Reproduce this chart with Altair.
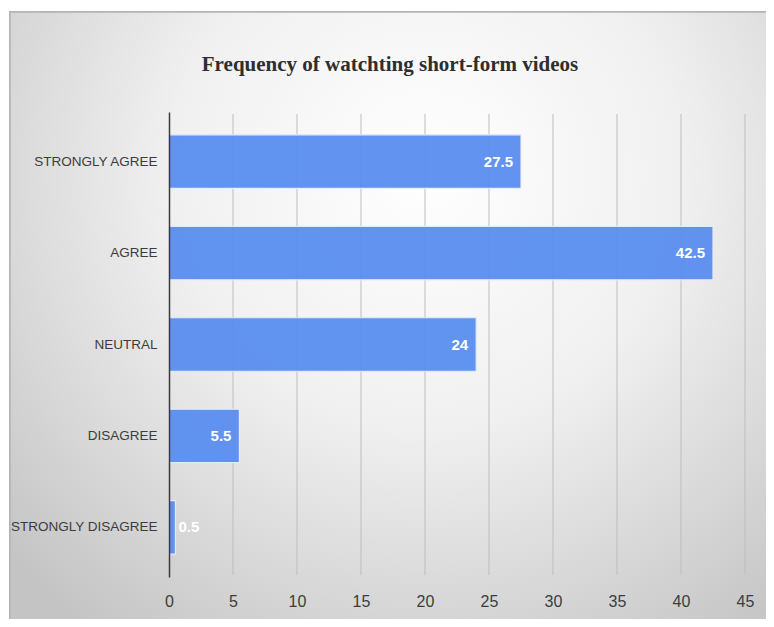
import altair as alt
import pandas as pd

categories = ["STRONGLY AGREE", "AGREE", "NEUTRAL", "DISAGREE", "STRONGLY DISAGREE"]
values = [27.5, 42.5, 24, 5.5, 0.5]
labels = ["27.5", "42.5", "24", "5.5", "0.5"]
x_ticks = [0, 5, 10, 15, 20, 25, 30, 35, 40, 45]
title_text = "Frequency of watchting short-form videos"

df = pd.DataFrame({"cat": categories, "value": values, "label": labels})
grid_df = pd.DataFrame({"t": x_ticks})
title_df = pd.DataFrame({"t": [title_text]})

W, H = 576, 465
PAD = {"left": 161, "top": 104, "right": 21, "bottom": 42}
SANS = "Liberation Sans, Arial, sans-serif"

xscale = alt.Scale(domain=[0, 45], nice=False)

bg = alt.Chart(df).mark_rect(
    fill=alt.RadialGradient(
        gradient="radial",
        stops=[
            alt.GradientStop(offset=0, color="#ffffff"),
            alt.GradientStop(offset=0.45, color="#f0f0f0"),
            alt.GradientStop(offset=1, color="#c4c4c4"),
        ],
        x1=0.55, y1=0.3, r1=0,
        x2=0.55, y2=0.3, r2=0.75,
    ),
    stroke="#b4b4b4",
    strokeWidth=1.5,
).encode(
    x=alt.value(-159), x2=alt.value(598),
    y=alt.value(-100), y2=alt.value(H + 60),
)

grid = alt.Chart(grid_df).transform_filter("datum.t > 0").mark_rule(
    color="#bdbdbd", strokeWidth=1
).encode(
    x=alt.X("t:Q", scale=xscale),
    y=alt.value(2), y2=alt.value(H - 2),
)

title = alt.Chart(title_df).mark_text(
    font="Liberation Serif, Times New Roman, serif", fontSize=21,
    fontWeight="bold", color="#2e2e2e", align="center", baseline="alphabetic",
).encode(text="t:N", x=alt.value(221), y=alt.value(-41))

y_enc = alt.Y(
    "cat:N", sort=categories, title=None,
    scale=alt.Scale(paddingInner=0.415, paddingOuter=0.25),
    axis=alt.Axis(
        domain=True, domainColor="#3a3a3a", domainWidth=1.5,
        ticks=False, grid=False, labelPadding=12, zindex=2,
        labelFont=SANS, labelFontSize=13.5, labelColor="#3c3c3c",
        labelLimit=200,
    ),
)
x_enc = alt.X(
    "value:Q", title=None, scale=xscale,
    axis=alt.Axis(
        values=x_ticks, domain=False, ticks=False, grid=False,
        labelPadding=16, zindex=2, labelFlush=False,
        labelFont=SANS, labelFontSize=16, labelColor="#3c3c3c",
    ),
)

bars = alt.Chart(df).mark_bar(
    color="#5a8ef0", stroke="#e4ecfd", strokeWidth=1.2, opacity=0.95
).encode(x=x_enc, y=y_enc)

base_text = alt.Chart(df).encode(
    x=alt.X("value:Q", scale=xscale), y=alt.Y("cat:N", sort=categories), text="label:N"
)
txt_in = base_text.transform_filter("datum.value >= 2").mark_text(
    align="right", baseline="middle", dx=-8, color="white",
    font=SANS, fontSize=15, fontWeight="bold",
)
txt_out = base_text.transform_filter("datum.value < 2").mark_text(
    align="left", baseline="middle", dx=3, color="white",
    font=SANS, fontSize=15, fontWeight="bold",
)

chart = alt.layer(bg, grid, title, bars, txt_in, txt_out).properties(
    width=W, height=H,
    padding=PAD,
    autosize=alt.AutoSizeParams(type="none"),
).configure_view(stroke=None).configure(background="white")

chart.save("out.html", embed_options={"renderer": "svg", "actions": False})
